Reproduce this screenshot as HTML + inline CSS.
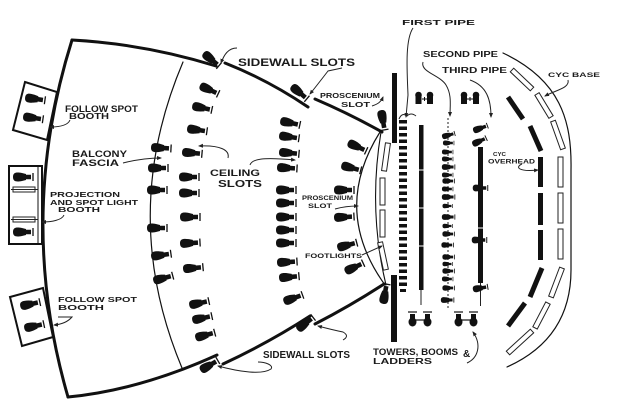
<!DOCTYPE html>
<html>
<head>
<meta charset="utf-8">
<style>
html,body{margin:0;padding:0;background:#fff;}
svg{display:block;}
text{font-family:"Liberation Sans","DejaVu Sans",sans-serif;fill:#1a1a1a;font-weight:bold;}
</style>
</head>
<body>
<svg width="640" height="409" viewBox="0 0 640 409" xmlns="http://www.w3.org/2000/svg">
<defs>
  <g id="f">
    <path d="M-11,0 C-11,-4.8 -7.5,-5 -2,-4 L2,-3 L2,-2.3 L7,-2.3 L7,2.3 L2,2.3 L2,3 L-2,4 C-7.5,5 -11,4.8 -11,0 Z" fill="#111"/>
    <line x1="9" y1="-4" x2="9" y2="4" stroke="#111" stroke-width="1.3"/>
  </g>
  <marker id="ah" viewBox="0 0 10 10" refX="8" refY="5" markerWidth="5" markerHeight="5" orient="auto">
    <path d="M0,1 L10,5 L0,9 Z" fill="#222"/>
  </marker>
</defs>

<rect width="640" height="409" fill="#fff"/>

<!-- Walls -->
<g fill="none" stroke="#111" stroke-linecap="round">
  <path d="M72,40 Q16,218 68,397" stroke-width="3"/>
  <path d="M72,40 Q145,44 216,66" stroke-width="3"/>
  <path d="M225,63 Q268,80 308,107" stroke-width="3"/>
  <path d="M315,99 Q350,114 382,132" stroke-width="3"/>
  <path d="M68,397 Q140,390 217,355" stroke-width="3"/>
  <path d="M223,364 Q270,342 310,316" stroke-width="3"/>
  <path d="M315,324 Q350,306 384,284" stroke-width="3"/>
  <path d="M183,62 Q118,215 182,368" stroke-width="1.2"/>
  <path d="M380,132 Q331,210 385,285" stroke-width="1.2"/>
  <path d="M381,132 Q368,210 386,285" stroke-width="1.1"/>
  <path d="M503,53 C560,80 572,120 571,170 L571,270 C571,320 545,350 507,367" stroke-width="1.2"/>
</g>

<!-- Booths -->
<g fill="#fff" stroke="#111" stroke-width="2">
  <polygon points="25,82 57,92 47,140 13,130"/>
  <rect x="9" y="166" width="33" height="78"/>
  <polygon points="10,297 43,288 53,337 22,346"/>
</g>
<line x1="38" y1="167" x2="38" y2="243" stroke="#111" stroke-width="1"/>
<g fill="none" stroke="#222" stroke-width="1">
  <rect x="13" y="187" width="22" height="5"/>
  <rect x="13" y="217" width="22" height="5"/>
  <line x1="11" y1="189.5" x2="38" y2="189.5"/>
  <line x1="11" y1="219.5" x2="38" y2="219.5"/>
</g>
<use href="#f" transform="translate(36,99) rotate(8)"/>
<use href="#f" transform="translate(34,118) rotate(8)"/>
<use href="#f" transform="translate(24,177)"/>
<use href="#f" transform="translate(24,232)"/>
<use href="#f" transform="translate(31,304) rotate(-12)"/>
<use href="#f" transform="translate(35,326) rotate(-12)"/>

<!-- Fascia fixtures -->
<use href="#f" transform="translate(162,148) rotate(3)"/>
<use href="#f" transform="translate(159,168)"/>
<use href="#f" transform="translate(158,190)"/>
<use href="#f" transform="translate(158,228)"/>
<use href="#f" transform="translate(162,255) rotate(-8)"/>
<use href="#f" transform="translate(164,278) rotate(-15)"/>

<!-- Ceiling row 1 -->
<use href="#f" transform="translate(210,90) rotate(25)"/>
<use href="#f" transform="translate(203,108) rotate(12)"/>
<use href="#f" transform="translate(198,130) rotate(8)"/>
<use href="#f" transform="translate(193,153) rotate(5)"/>
<use href="#f" transform="translate(190,177)"/>
<use href="#f" transform="translate(190,193)"/>
<use href="#f" transform="translate(191,217)"/>
<use href="#f" transform="translate(191,243) rotate(-3)"/>
<use href="#f" transform="translate(194,268) rotate(-5)"/>
<use href="#f" transform="translate(200,303) rotate(-12)"/>
<use href="#f" transform="translate(203,318) rotate(-12)"/>
<use href="#f" transform="translate(206,335) rotate(-15)"/>

<!-- Ceiling row 2 -->
<use href="#f" transform="translate(291,123) rotate(12)"/>
<use href="#f" transform="translate(290,137) rotate(8)"/>
<use href="#f" transform="translate(290,153) rotate(5)"/>
<use href="#f" transform="translate(288,168) rotate(3)"/>
<use href="#f" transform="translate(287,190)"/>
<use href="#f" transform="translate(287,203)"/>
<use href="#f" transform="translate(287,217)"/>
<use href="#f" transform="translate(287,230)"/>
<use href="#f" transform="translate(287,243)"/>
<use href="#f" transform="translate(288,262) rotate(-3)"/>
<use href="#f" transform="translate(290,277) rotate(-5)"/>
<use href="#f" transform="translate(294,298) rotate(-20)"/>

<!-- Row 3 near proscenium -->
<use href="#f" transform="translate(358,147) rotate(25)"/>
<use href="#f" transform="translate(352,168) rotate(15)"/>
<use href="#f" transform="translate(345,190)"/>
<use href="#f" transform="translate(345,217) rotate(-3)"/>
<use href="#f" transform="translate(348,245) rotate(-15)"/>
<use href="#f" transform="translate(355,267) rotate(-25)"/>

<!-- Sidewall & proscenium slot fixtures -->
<use href="#f" transform="translate(212,60) rotate(40)"/>
<use href="#f" transform="translate(300,93) rotate(40)"/>
<use href="#f" transform="translate(210,365) rotate(-30)"/>
<use href="#f" transform="translate(306,323) rotate(-38)"/>
<use href="#f" transform="translate(383,121) rotate(80)"/>
<use href="#f" transform="translate(385,293) rotate(-80)"/>

<!-- Footlights -->
<g fill="#fff" stroke="#222" stroke-width="1">
  <rect x="-2.5" y="-14" width="5" height="28" transform="translate(386,157) rotate(8)"/>
  <rect x="380" y="178" width="5" height="27"/>
  <rect x="380" y="210" width="5" height="27"/>
  <rect x="-2.5" y="-14" width="5" height="28" transform="translate(383,256) rotate(-12)"/>
</g>

<!-- Proscenium wall -->
<rect x="392" y="73" width="5" height="70" fill="#111"/>
<rect x="391" y="275" width="6" height="67" fill="#111"/>

<!-- Column A -->
<g fill="#111">
  <rect x="399" y="120" width="8" height="3.5"/><rect x="399" y="126.5" width="8" height="3.5"/>
  <rect x="399" y="133" width="8" height="3.5"/><rect x="399" y="139.5" width="8" height="3.5"/>
  <rect x="399" y="146" width="8" height="3.5"/><rect x="399" y="152.5" width="8" height="3.5"/>
  <rect x="399" y="159" width="8" height="3.5"/><rect x="399" y="165.5" width="8" height="3.5"/>
  <rect x="399" y="172" width="8" height="3.5"/><rect x="399" y="178.5" width="8" height="3.5"/>
  <rect x="399" y="185" width="8" height="3.5"/><rect x="399" y="191.5" width="8" height="3.5"/>
  <rect x="399" y="198" width="8" height="3.5"/><rect x="399" y="204.5" width="8" height="3.5"/>
  <rect x="399" y="211" width="8" height="3.5"/><rect x="399" y="217.5" width="8" height="3.5"/>
  <rect x="399" y="224" width="8" height="3.5"/><rect x="399" y="230.5" width="8" height="3.5"/>
  <rect x="399" y="237" width="8" height="3.5"/><rect x="399" y="243.5" width="8" height="3.5"/>
  <rect x="399" y="250" width="8" height="3.5"/><rect x="399" y="256.5" width="8" height="3.5"/>
  <rect x="399" y="263" width="8" height="3.5"/><rect x="399" y="269.5" width="8" height="3.5"/>
  <rect x="399" y="276" width="8" height="3.5"/><rect x="399" y="282.5" width="8" height="3.5"/>
  <rect x="400" y="289" width="6" height="3"/>
</g>
<path d="M399,119 q3,-7 8,-3 q4,-4 9,0" fill="none" stroke="#222" stroke-width="1"/>

<!-- Column B -->
<rect x="419" y="125" width="4.5" height="165" fill="#111"/>
<g stroke="#fff" stroke-width="1">
  <line x1="418" y1="170" x2="424" y2="170"/>
  <line x1="418" y1="208" x2="424" y2="208"/>
  <line x1="418" y1="246" x2="424" y2="246"/>
</g>
<line x1="421" y1="290" x2="421" y2="305" stroke="#222" stroke-width="1"/>

<!-- Column C -->
<line x1="448" y1="118" x2="448" y2="308" stroke="#222" stroke-width="1" stroke-dasharray="2,2"/>
<g>
  <use href="#f" transform="translate(449,135) rotate(-15) scale(0.65)"/>
  <use href="#f" transform="translate(449,143) scale(0.55)"/>
  <use href="#f" transform="translate(448,152) scale(0.55)"/>
  <use href="#f" transform="translate(448,159) scale(0.55)"/>
  <use href="#f" transform="translate(449,167) scale(0.65)"/>
  <use href="#f" transform="translate(448,175) scale(0.55)"/>
  <use href="#f" transform="translate(449,181) scale(0.6)"/>
  <use href="#f" transform="translate(448,189) scale(0.55)"/>
  <use href="#f" transform="translate(449,197) scale(0.65)"/>
  <use href="#f" transform="translate(448,206) scale(0.5)"/>
  <use href="#f" transform="translate(449,217) scale(0.65)"/>
  <use href="#f" transform="translate(448,226) scale(0.5)"/>
  <use href="#f" transform="translate(449,234) scale(0.6)"/>
  <use href="#f" transform="translate(448,245) scale(0.6)"/>
  <use href="#f" transform="translate(449,257) scale(0.6)"/>
  <use href="#f" transform="translate(448,264) scale(0.5)"/>
  <use href="#f" transform="translate(449,271) scale(0.6)"/>
  <use href="#f" transform="translate(448,279) scale(0.55)"/>
  <use href="#f" transform="translate(449,288) scale(0.6)"/>
  <use href="#f" transform="translate(448,300) scale(0.65)"/>
</g>

<!-- Column D -->
<rect x="478" y="147" width="5" height="136" fill="#111"/>
<line x1="477" y1="228" x2="484" y2="228" stroke="#fff" stroke-width="1"/>
<line x1="480.5" y1="283" x2="480.5" y2="306" stroke="#222" stroke-width="1"/>
<use href="#f" transform="translate(481,128) rotate(-20) scale(0.75)"/>
<use href="#f" transform="translate(480,141) rotate(-25) scale(0.75)"/>
<use href="#f" transform="translate(481,188) scale(0.75)"/>
<use href="#f" transform="translate(480,240) scale(0.75)"/>
<use href="#f" transform="translate(481,288) rotate(-10) scale(0.75)"/>

<!-- Top twin fixtures -->
<g fill="#111">
  <circle cx="418.5" cy="95" r="3.3"/><rect x="415.5" y="96" width="6" height="8"/>
  <circle cx="430" cy="95" r="3.3"/><rect x="427" y="96" width="6" height="8"/>
  <circle cx="464" cy="95" r="3.3"/><rect x="461" y="96" width="6" height="8"/>
  <circle cx="476" cy="95" r="3.3"/><rect x="473" y="96" width="6" height="8"/>
</g>
<g stroke="#111" stroke-width="1">
  <line x1="422" y1="99" x2="427" y2="99"/><line x1="424.5" y1="97" x2="424.5" y2="101"/>
  <line x1="467" y1="99" x2="473" y2="99"/><line x1="470" y1="97" x2="470" y2="101"/>
</g>
<!-- Bottom twin fixtures -->
<g fill="#111">
  <rect x="410" y="314" width="5" height="7"/><ellipse cx="412.5" cy="322" rx="4" ry="4.5"/>
  <rect x="425" y="314" width="5" height="7"/><ellipse cx="427.5" cy="322" rx="4" ry="4.5"/>
  <rect x="456" y="314" width="5" height="7"/><ellipse cx="458.5" cy="322" rx="4" ry="4.5"/>
  <rect x="471" y="314" width="5" height="7"/><ellipse cx="473.5" cy="322" rx="4" ry="4.5"/>
</g>
<g stroke="#111" stroke-width="1.2">
  <line x1="408" y1="312" x2="417" y2="312"/><line x1="423" y1="312" x2="432" y2="312"/>
  <line x1="454" y1="312" x2="463" y2="312"/><line x1="469" y1="312" x2="478" y2="312"/>
  <line x1="415" y1="320" x2="425" y2="320"/><line x1="461" y1="320" x2="471" y2="320"/>
</g>

<!-- Cyc overhead -->
<g stroke="#111" stroke-width="5" stroke-linecap="butt" fill="none">
  <line x1="508" y1="97" x2="523" y2="119"/>
  <line x1="530" y1="126" x2="541" y2="151"/>
  <line x1="540.5" y1="157" x2="540.5" y2="187"/>
  <line x1="540.5" y1="193" x2="540.5" y2="225"/>
  <line x1="540.5" y1="230" x2="540.5" y2="260"/>
  <line x1="542" y1="268" x2="530" y2="297"/>
  <line x1="525" y1="303" x2="508" y2="326"/>
</g>

<!-- Cyc base -->
<g fill="#fff" stroke="#222" stroke-width="1">
  <rect x="-13.8" y="-2.5" width="27.6" height="5" transform="translate(522,79.5) rotate(43.5)"/>
  <rect x="-13.5" y="-2.5" width="27" height="5" transform="translate(544,105.5) rotate(58.7)"/>
  <rect x="-14.8" y="-2.5" width="29.6" height="5" transform="translate(558,135) rotate(70.3)"/>
  <rect x="558" y="157" width="5" height="30"/>
  <rect x="558" y="193" width="5" height="30"/>
  <rect x="558" y="229" width="5" height="30"/>
  <rect x="-15.5" y="-2.5" width="31" height="5" transform="translate(556.5,282.5) rotate(110.8)"/>
  <rect x="-14" y="-2.5" width="28" height="5" transform="translate(541.5,315.5) rotate(117.5)"/>
  <rect x="-16.3" y="-2.5" width="32.6" height="5" transform="translate(520,342) rotate(137.5)"/>
</g>

<!-- Leader arrows -->
<g fill="none" stroke="#222" stroke-width="1" marker-end="url(#ah)">
  <path d="M70,120 C68,125 60,127 50,127"/>
  <path d="M123,163 C135,160 150,158 161,158"/>
  <path d="M64,215 C62,220 52,222 42,222"/>
  <path d="M58,317 L72,317 Q66,324 54,325"/>
  <path d="M237,48 C228,48 224,55 221,63"/>
  <path d="M342,68 L328,71 Q318,84 310,94"/>
  <path d="M372,106 C378,104 381,102 383,97"/>
  <path d="M228,158 C230,150 220,145 199,146"/>
  <path d="M250,165 C252,159 262,157 295,160"/>
  <path d="M335,209 C342,207 350,206 358,206"/>
  <path d="M362,255 L382,246"/>
  <path d="M343,340 Q350,336 343,332 Q333,330 318,326"/>
  <path d="M258,362 C265,362 274,365 271,369 C262,375 240,372 218,366"/>
  <path d="M413,28 C405,40 407,70 408,95 L406,117"/>
  <path d="M423,62 C420,72 440,75 446,85 C452,95 450,105 450,116"/>
  <path d="M470,80 C487,86 491,100 491,117"/>
  <path d="M568,80 C570,88 556,90 545,96"/>
  <path d="M522,164 C515,167 518,172 538,170"/>
  <path d="M467,363 C478,358 482,345 473,332"/>
</g>

<!-- Labels -->
<text x="65" y="112" font-size="9" textLength="73" lengthAdjust="spacingAndGlyphs">FOLLOW SPOT</text>
<text x="69" y="119" font-size="8" textLength="40" lengthAdjust="spacingAndGlyphs">BOOTH</text>
<text x="72" y="157" font-size="9" textLength="55" lengthAdjust="spacingAndGlyphs">BALCONY</text>
<text x="72" y="166" font-size="9" textLength="47" lengthAdjust="spacingAndGlyphs">FASCIA</text>
<text x="50" y="197" font-size="7.5" textLength="70" lengthAdjust="spacingAndGlyphs">PROJECTION</text>
<text x="50" y="205" font-size="7.5" textLength="88" lengthAdjust="spacingAndGlyphs">AND SPOT LIGHT</text>
<text x="58" y="212" font-size="7.5" textLength="42" lengthAdjust="spacingAndGlyphs">BOOTH</text>
<text x="58" y="302" font-size="7.5" textLength="79" lengthAdjust="spacingAndGlyphs">FOLLOW SPOT</text>
<text x="58" y="310" font-size="7.5" textLength="46" lengthAdjust="spacingAndGlyphs">BOOTH</text>
<text x="238" y="66" font-size="11" textLength="117" lengthAdjust="spacingAndGlyphs">SIDEWALL SLOTS</text>
<text x="320" y="98" font-size="7.5" textLength="60" lengthAdjust="spacingAndGlyphs">PROSCENIUM</text>
<text x="341" y="107" font-size="7.5" textLength="29" lengthAdjust="spacingAndGlyphs">SLOT</text>
<text x="210" y="176" font-size="9" textLength="50" lengthAdjust="spacingAndGlyphs">CEILING</text>
<text x="218" y="187" font-size="10" textLength="44" lengthAdjust="spacingAndGlyphs">SLOTS</text>
<text x="302" y="200" font-size="6.5" textLength="51" lengthAdjust="spacingAndGlyphs">PROSCENIUM</text>
<text x="308" y="208" font-size="6.5" textLength="24" lengthAdjust="spacingAndGlyphs">SLOT</text>
<text x="305" y="258" font-size="6.5" textLength="57" lengthAdjust="spacingAndGlyphs">FOOTLIGHTS</text>
<text x="263" y="358" font-size="10" textLength="87" lengthAdjust="spacingAndGlyphs">SIDEWALL SLOTS</text>
<text x="402" y="25" font-size="7.5" textLength="73" lengthAdjust="spacingAndGlyphs">FIRST PIPE</text>
<text x="423" y="57" font-size="8" textLength="75" lengthAdjust="spacingAndGlyphs">SECOND PIPE</text>
<text x="442" y="73" font-size="8" textLength="65" lengthAdjust="spacingAndGlyphs">THIRD PIPE</text>
<text x="548" y="77" font-size="6" textLength="52" lengthAdjust="spacingAndGlyphs">CYC BASE</text>
<text x="493" y="156" font-size="5.5" textLength="13" lengthAdjust="spacingAndGlyphs">CYC</text>
<text x="488" y="163.5" font-size="6" textLength="47" lengthAdjust="spacingAndGlyphs">OVERHEAD</text>
<text x="373" y="355" font-size="9" textLength="85" lengthAdjust="spacingAndGlyphs">TOWERS, BOOMS</text>
<text x="463" y="357" font-size="10">&amp;</text>
<text x="373" y="364" font-size="8" textLength="59" lengthAdjust="spacingAndGlyphs">LADDERS</text>
</svg>
</body>
</html>
